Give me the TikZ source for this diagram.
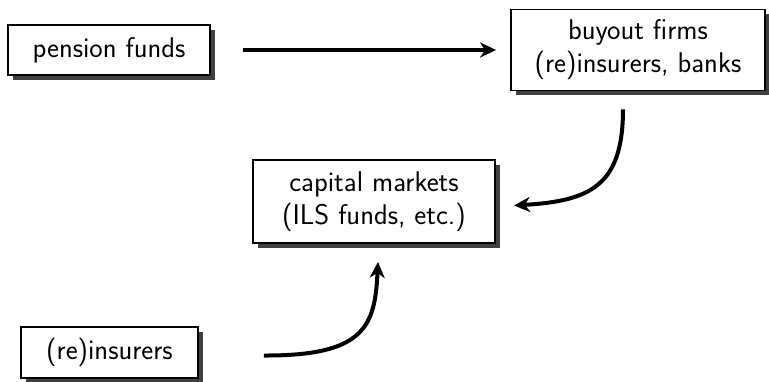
\documentclass[tikz,border=0pt]{standalone}
\usetikzlibrary{shadows,arrows.meta}
\begin{document}
\begin{tikzpicture}[x=1pt,y=1pt,
  box/.style={draw=black,line width=1.8pt,fill=white,inner sep=0pt,align=center,
    font=\sffamily\fontsize{28.5}{33}\selectfont,
    drop shadow={shadow xshift=5pt,shadow yshift=-5pt,fill=black!75,opacity=1}},
  conn/.style={line width=4pt,-{Stealth[length=16pt,width=15pt,inset=5pt]}}]
\useasboundingbox (0,0) rectangle (769,381);
\node[box,minimum width=202pt,minimum height=50pt] (pf) at (109,331) {pension funds};
\node[box,minimum width=254pt,minimum height=81pt] (bf) at (638,331) {buyout firms\\(re)insurers, banks};
\node[box,minimum width=242pt,minimum height=83pt] (cm) at (374,179.5) {capital markets\\(ILS funds, etc.)};
\node[box,minimum width=177pt,minimum height=51pt] (ri) at (109.5,28.5) {(re)insurers};
\draw[conn,shorten <=32pt,shorten >=14pt] (pf.east) -- (bf.west);
\coordinate (c1s) at ([xshift=-15pt,yshift=-18pt]bf.south);
\coordinate (c1e) at ([xshift=18pt,yshift=-4pt]cm.east);
\draw[conn] (c1s) .. controls (623,195) and (590,180) .. (c1e);
\coordinate (c2s) at ([xshift=65pt,yshift=-3pt]ri.east);
\coordinate (c2e) at ([xshift=4pt,yshift=-18pt]cm.south);
\draw[conn] (c2s) .. controls (365,25) and (375,55) .. (c2e);
\end{tikzpicture}
\end{document}
